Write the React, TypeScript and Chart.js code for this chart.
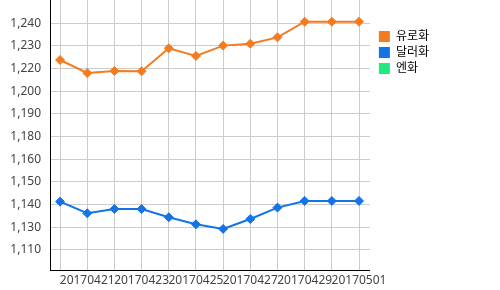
import React, { useEffect, useRef } from "react";
import { Chart, registerables } from "chart.js";

Chart.register(...registerables);

const categories = [
  "20170420", "20170421", "20170422", "20170423", "20170424", "20170425",
  "20170426", "20170427", "20170428", "20170429", "20170430", "20170501",
];
const eurValues = [1220.5, 1213.1, 1214.3, 1214.1, 1227.2, 1222.8, 1228.7, 1229.8, 1233.4, 1242.3, 1242.3, 1242.3];
const usdValues = [1139.9, 1133.3, 1135.7, 1135.7, 1131.0, 1127.0, 1124.4, 1130.0, 1136.5, 1140.3, 1140.3, 1140.3];
const jpyValues: number[] = [];

const seriesNames = ["유로화", "달러화", "엔화"];
const seriesColors = ["#f47b20", "#1473e6", "#1eeb7d"];

const yTickValues = [1112.4, 1125.3, 1138.2, 1151.1, 1164.0, 1176.9, 1189.8, 1202.7, 1215.6, 1228.5, 1241.4];
const yTickLabels = ["1,110", "1,130", "1,140", "1,150", "1,160", "1,180", "1,190", "1,200", "1,220", "1,230", "1,240"];

const FONT = '"Noto Sans", "Noto Sans CJK KR", sans-serif';

export default function App() {
  const ref = useRef<HTMLCanvasElement | null>(null);

  useEffect(() => {
    if (!ref.current) return;
    const toPts = (arr: number[]) => arr.map((v, i) => ({ x: i, y: v }));
    const all = [eurValues, usdValues, jpyValues];
    const chart = new Chart(ref.current, {
      type: "line",
      data: {
        datasets: all.map((arr, k) => ({
          label: seriesNames[k],
          data: toPts(arr),
          borderColor: seriesColors[k],
          backgroundColor: seriesColors[k],
          pointBackgroundColor: seriesColors[k],
          pointBorderColor: seriesColors[k],
          borderWidth: 2,
          pointStyle: "rectRot",
          pointRadius: 4.5,
          pointBorderWidth: 1,
          tension: 0,
          fill: false,
          yAxisID: "y",
        })),
      },
      options: {
        responsive: false,
        animation: false,
        devicePixelRatio: 1,
        layout: { autoPadding: false, padding: { left: 10, right: 61, top: 0, bottom: 2.6 } },
        plugins: {
          tooltip: { enabled: false },
          legend: {
            position: "right",
            align: "start",
            title: { display: true, text: "", padding: { top: 0, bottom: 12 }, font: { size: 12, family: FONT } },
            labels: {
              boxWidth: 11,
              boxHeight: 11,
              padding: 4,
              color: "#000",
              font: { size: 12, family: FONT },
              generateLabels: (c: any) =>
                c.data.datasets.map((d: any, i: number) => ({
                  text: d.label,
                  fillStyle: d.backgroundColor,
                  strokeStyle: d.backgroundColor,
                  fontColor: "#000",
                  lineWidth: 0,
                  hidden: false,
                  datasetIndex: i,
                })),
            },
          },
        },
        scales: {
          x: {
            type: "linear",
            min: -0.37,
            max: 11.4,
            afterBuildTicks: (s: any) => {
              s.ticks = categories.map((_, i) => ({ value: i }));
            },
            afterFit: (s: any) => {
              s.paddingLeft = 0;
              s.paddingRight = 0;
              s.height = 17.4;
            },
            grid: { color: "#cccccc", drawTicks: false },
            border: { display: true, color: "#000", width: 1 },
            ticks: {
              autoSkip: false,
              maxRotation: 0,
              minRotation: 0,
              padding: 3,
              color: "#444",
              font: { size: 12, family: FONT },
              callback: (_v: any, i: number) => (i % 2 === 1 ? categories[i] : ""),
            },
          },
          y: {
            type: "linear",
            position: "left",
            min: 1101.0,
            max: 1254.66,
            afterBuildTicks: (s: any) => {
              s.ticks = yTickValues.map((v) => ({ value: v }));
            },
            afterFit: (s: any) => {
              s.paddingTop = 0;
              s.paddingBottom = 0;
              s.width = 40;
            },
            grid: { color: "#cccccc", drawTicks: false },
            border: { display: true, color: "#000", width: 1 },
            ticks: {
              autoSkip: false,
              padding: 9,
              color: "#444",
              font: { size: 12, family: FONT },
              callback: (_v: any, i: number) => yTickLabels[i],
            },
          },
          gap: {
            type: "linear",
            position: "right",
            display: true,
            grid: { display: false, drawTicks: false },
            border: { display: false },
            ticks: { display: false },
            afterFit: (s: any) => {
              s.width = 5;
              s.paddingTop = 0;
              s.paddingBottom = 0;
            },
          },
        },
      },
    } as any);
    return () => chart.destroy();
  }, []);

  return (
    <div style={{ position: "fixed", left: 0, top: 0, width: 500, height: 290, background: "#fff" }}>
      <canvas ref={ref} width={500} height={290} />
    </div>
  );
}
